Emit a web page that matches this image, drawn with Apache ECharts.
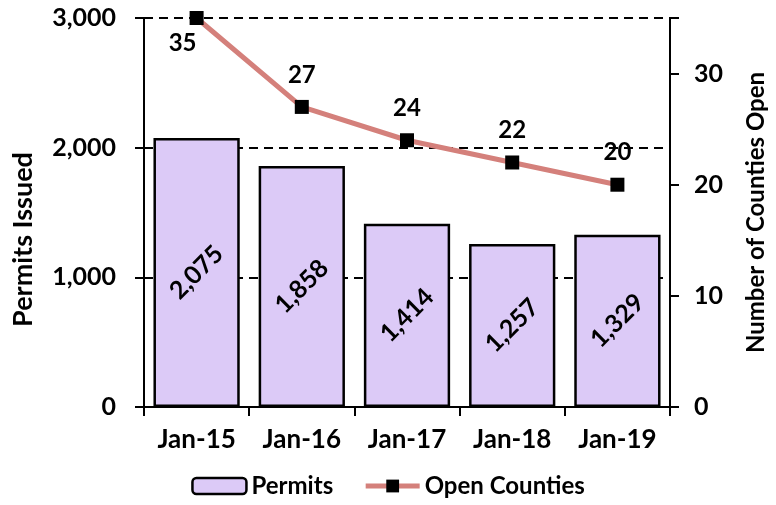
<!DOCTYPE html>
<html>
<head>
<meta charset="utf-8">
<script src="https://cdn.jsdelivr.net/npm/echarts@6/dist/echarts.min.js"></script>
<style>
html, body { margin: 0; padding: 0; background: #fff; }
#container { width: 776px; height: 505px; }
</style>
</head>
<body>
<div id="container"></div>
<script>
var categories = ['Jan-15', 'Jan-16', 'Jan-17', 'Jan-18', 'Jan-19'];
var permits = [2075, 1858, 1414, 1257, 1329];
var openCounties = [35, 27, 24, 22, 20];

var FONT = 'Lato';
var dom = document.getElementById('container');
var myChart = echarts.init(dom);

function fmt(v) {
	return echarts.format.addCommas(v);
}

// first label sits below its point
var countyData = openCounties.map(function(v, i) {
	if (i === 0) {
		return { value: v, label: { position: 'bottom', offset: [-14, -7] } };
	}
	return v;
});

var option = {
	animation: false,
	textStyle: { fontFamily: FONT, fontWeight: 'bold', color: '#000' },
	grid: { left: 144, right: 103, top: 18, bottom: 98 },
	legend: {
		bottom: 2,
		left: 'center',
		itemWidth: 54,
		itemHeight: 16,
		itemGap: 30,
		textStyle: { fontFamily: FONT, fontWeight: 'bold', fontSize: 24, color: '#000' },
		data: [
			{ name: 'Permits', itemStyle: { color: '#dccaf7', borderColor: '#000', borderWidth: 2.5 } },
			{ name: 'Open Counties', lineStyle: { color: '#d4807b', width: 5 } }
		]
	},
	xAxis: {
		type: 'category',
		data: categories,
		axisLine: { lineStyle: { color: '#000', width: 2 } },
		axisTick: { show: true, length: 9, lineStyle: { color: '#000', width: 2 } },
		axisLabel: { fontFamily: FONT, fontWeight: 'bold', fontSize: 26, color: '#000', margin: 20 }
	},
	yAxis: [{
		type: 'value',
		min: 0,
		max: 3000,
		interval: 1000,
		name: 'Permits Issued',
		nameLocation: 'middle',
		nameGap: 107,
		nameTextStyle: { fontFamily: FONT, fontWeight: 'bold', fontSize: 27, color: '#000', padding: [0, 54, 0, 0] },
		axisLine: { show: true, lineStyle: { color: '#000', width: 2 } },
		axisTick: { show: true, length: 9, lineStyle: { color: '#000', width: 2 } },
		axisLabel: { fontFamily: FONT, fontWeight: 'bold', fontSize: 25, color: '#000', margin: 28, formatter: fmt },
		splitLine: { show: true, lineStyle: { color: '#000', width: 2, type: [9, 6] } }
	}, {
		type: 'value',
		min: 0,
		max: 35,
		interval: 10,
		name: 'Number of Counties Open',
		nameLocation: 'middle',
		nameGap: 74,
		nameTextStyle: { fontFamily: FONT, fontWeight: 'bold', fontSize: 24, color: '#000' },
		axisLine: { show: true, lineStyle: { color: '#000', width: 2 } },
		axisTick: { show: true, length: 9, lineStyle: { color: '#000', width: 2 } },
		axisLabel: { fontFamily: FONT, fontWeight: 'bold', fontSize: 25, color: '#000', margin: 24,
			formatter: function(v) { return v === 35 ? '' : v; } },
		splitLine: { show: false }
	}],
	color: ['#dccaf7', '#d4807b'],
	series: [{
		name: 'Permits',
		type: 'bar',
		data: permits,
		barWidth: '82%',
		itemStyle: { color: '#dccaf7', borderColor: '#000', borderWidth: 2.5 },
		label: {
			show: true,
			position: 'inside',
			rotate: 45,
			fontFamily: FONT,
			fontWeight: 'bold',
			fontSize: 25,
			color: '#000',
			formatter: function(p) { return fmt(p.value); }
		},
		z: 2
	}, {
		name: 'Open Counties',
		type: 'line',
		yAxisIndex: 1,
		data: countyData,
		symbol: 'rect',
		symbolSize: 14,
		lineStyle: { color: '#d4807b', width: 5 },
		itemStyle: { color: '#000' },
		label: {
			show: true,
			position: 'top',
			distance: 13,
			fontFamily: FONT,
			fontWeight: 'bold',
			fontSize: 24,
			color: '#000'
		},
		z: 5
	}]
};

myChart.setOption(option, true);
</script>
</body>
</html>
